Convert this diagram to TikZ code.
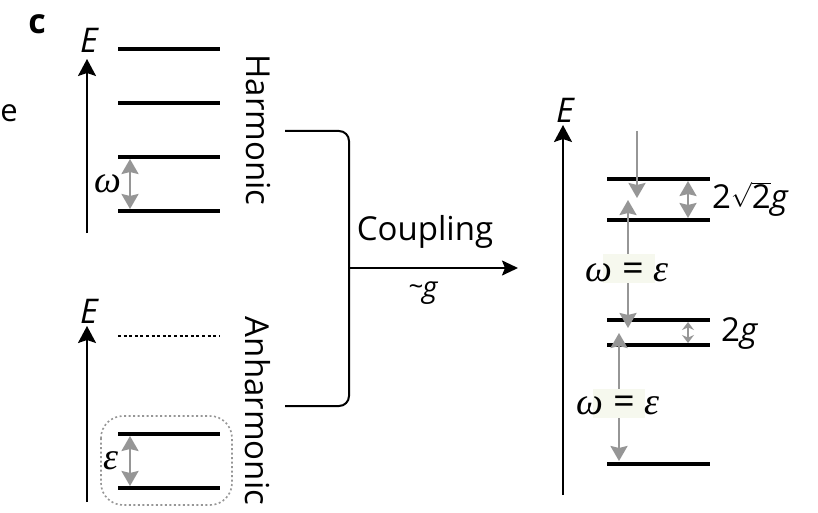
\documentclass[tikz,border=0pt]{standalone}
\usepackage{fontspec}
\setmainfont{Open Sans}
\newfontfamily\grk{Liberation Serif}
\usetikzlibrary{arrows.meta}
\definecolor{arrgray}{RGB}{150,150,150}
\definecolor{lblbg}{RGB}{246,248,238}
\newcommand{\om}{{\grk\itshape ω}}
\newcommand{\ep}{{\grk\itshape ε}}
\begin{document}
\begin{tikzpicture}[x=1pt,y=-1pt,
  lvl/.style={line width=3.5pt},
  axis/.style={line width=2pt,-{Stealth[length=17pt,width=18pt,inset=3pt]}},
  gtip/.tip={Stealth[length=15pt,width=17pt,inset=2pt]},
  garr/.style={arrgray,line width=2.4pt,-gtip},
  gdarr/.style={arrgray,line width=2.4pt,gtip-gtip},
  gsarr/.style={arrgray,line width=2.4pt,{Stealth[length=8pt,width=12pt]}-{Stealth[length=8pt,width=12pt]}},
  txt/.style={font=\fontsize{31}{36}\selectfont,inner sep=0pt},
  etxt/.style={font=\fontsize{34}{36}\selectfont,inner sep=0pt},
  mth/.style={font=\fontsize{38}{40}\selectfont,inner sep=1pt}]
\useasboundingbox (0,0) rectangle (818,513);

% panel letter and cut-off text
\node[txt,font=\fontsize{34}{36}\selectfont\bfseries] (c) at (37,24) {c};
\node[txt] (e) at (9,113) {e};

% ---- Harmonic ----
\coordinate (a1s) at (87,233); \coordinate (a1e) at (87,59);
\draw[axis] (a1s) -- (a1e);
\node[etxt] (E1) at (89,40) {\itshape E};
\foreach \y/\n in {49/h1,103/h2,157/h3,211/h4}{
  \coordinate (\n l) at (118,\y); \coordinate (\n r) at (220,\y);
  \draw[lvl] (\n l) -- (\n r);}
\coordinate (w1) at (130,159); \coordinate (w2) at (130,209);
\draw[gdarr] (w1) -- (w2);
\node[mth] (om) at (108,184) {\om};
\node[txt,rotate=-90,font=\fontsize{33}{36}\selectfont] (harm) at (258,130) {Harmonic};

% ---- Anharmonic ----
\coordinate (a2s) at (87,502); \coordinate (a2e) at (87,326);
\draw[axis] (a2s) -- (a2e);
\node[etxt] (E2) at (89,311) {\itshape E};
\coordinate (dl) at (118,336); \coordinate (dr) at (220,336);
\draw[line width=2pt,dash pattern=on 3pt off 2.6pt] (dl) -- (dr);
\foreach \y/\n in {434/k1,488/k2}{
  \coordinate (\n l) at (118,\y); \coordinate (\n r) at (220,\y);
  \draw[lvl] (\n l) -- (\n r);}
\coordinate (bx1) at (101,416); \coordinate (bx2) at (232,505);
\draw[arrgray,line width=1.6pt,dash pattern=on 2pt off 2.5pt,rounded corners=22pt] (bx1) rectangle (bx2);
\coordinate (e1) at (130,436); \coordinate (e2) at (130,486);
\draw[gdarr] (e1) -- (e2);
\node[mth] (ep) at (111,461) {\ep};
\node[txt,rotate=-90,font=\fontsize{33}{36}\selectfont] (anh) at (258,411) {Anharmonic};

% ---- Coupling bracket ----
\coordinate (bt) at (285,131); \coordinate (bb) at (285,406);
\coordinate (bm) at (349,268); \coordinate (bend) at (518,268);
\draw[line width=2pt,rounded corners=10pt] (bt) -- (349,131) -- (349,406) -- (bb);
\draw[line width=2pt,-{Stealth[length=16pt,width=15pt,inset=3pt]}] (bm) -- (bend);
\node[txt,font=\fontsize{33}{36}\selectfont] (coup) at (425,232) {Coupling};
\node[txt,font=\fontsize{29}{30}\selectfont] (g) at (423,293) {\raisebox{2pt}{\fontsize{26}{28}\selectfont\textasciitilde}\kern-1pt\itshape g};

% ---- Coupled spectrum ----
\coordinate (a3s) at (563,495); \coordinate (a3e) at (563,125);
\draw[axis] (a3s) -- (a3e);
\node[etxt] (E3) at (565,110) {\itshape E};
\foreach \y/\n in {179/r1,220/r2,320/r3,345/r4,464/r5}{
  \coordinate (\n l) at (607,\y); \coordinate (\n r) at (710,\y);
  \draw[lvl] (\n l) -- (\n r);}
% transitions
\coordinate (t0) at (637,131); \coordinate (t1) at (637,198);
\draw[garr] (t0) -- (t1);
\coordinate (u1) at (628,200); \coordinate (u2) at (628,328);
\draw[gdarr] (u1) -- (u2);
\coordinate (v1) at (619,333); \coordinate (v2) at (619,461);
\draw[gdarr] (v1) -- (v2);
\fill[lblbg] (603,254) rectangle (655,283);
\fill[lblbg] (593,389) rectangle (645,418);
\node[mth] (we1) at (627,272) {\om{} = \ep};
\node[mth] (we2) at (618,405) {\om{} = \ep};
% splittings
\coordinate (s1) at (688,181); \coordinate (s2) at (688,218);
\draw[gdarr] (s1) -- (s2);
\node[txt,anchor=west,font=\fontsize{33}{36}\selectfont] (l1) at (712,199) {2$\sqrt{\mbox{2}}$\itshape g};
\coordinate (p1) at (688,322); \coordinate (p2) at (688,343);
\draw[gsarr] (p1) -- (p2);
\node[txt,anchor=west,font=\fontsize{33}{36}\selectfont] (l2) at (721,334) {2\itshape g};
\end{tikzpicture}
\end{document}
